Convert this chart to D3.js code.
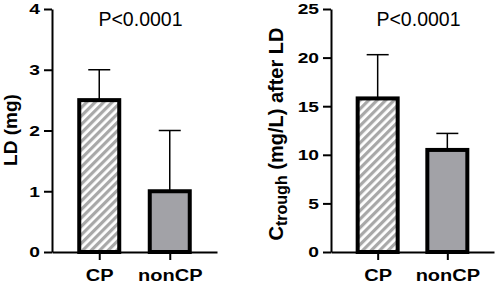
<!DOCTYPE html>
<html>
<head>
<meta charset="utf-8">
<script src="https://cdn.jsdelivr.net/npm/d3@7"></script>
<style>
  body { margin: 0; background: #fff; }
  svg { display: block; font-family: "Liberation Sans", Arial, sans-serif; }
  .axis path, .axis line { stroke: #000; stroke-width: 2; }
  .axis text { font-weight: bold; fill: #000; }
</style>
</head>
<body>
<svg width="498" height="285"></svg>
<script>
var groups = ['CP', 'nonCP'];

// left panel: LD (mg)
var ldMean = [2.5, 1.0];
var ldSd = [0.5, 1.0];
var ldTicks = [0, 1, 2, 3, 4];

// right panel: C trough (mg/L) after LD
var ctMean = [15.8, 10.5];
var ctSd = [4.5, 1.7];
var ctTicks = [0, 5, 10, 15, 20, 25];

var pLabel = 'P<0.0001';

var svg = d3.select('svg');

var defs = svg.append('defs');
var pat = defs.append('pattern')
    .attr('id', 'hatch')
    .attr('patternUnits', 'userSpaceOnUse')
    .attr('width', 6)
    .attr('height', 6)
    .attr('patternTransform', 'rotate(45)');
pat.append('rect').attr('width', 6).attr('height', 6).attr('fill', '#fff');
pat.append('rect').attr('width', 3.2).attr('height', 6).attr('fill', '#a8a8a8');

var fills = ['url(#hatch)', '#a2a2a7'];

var panels = [
    { mean: ldMean, sd: ldSd, ticks: ldTicks, max: 4, x0: 52, x1: 217 },
    { mean: ctMean, sd: ctSd, ticks: ctTicks, max: 25, x0: 331, x1: 494 }
];

var yTop = 9, yBottom = 252;
var barW = 40, capW = 22;

// the bold labels in the figure are set in a wide face: stretch them a bit
function widen(sel, k) {
    sel.each(function () {
        var w = this.getComputedTextLength();
        d3.select(this).attr('textLength', w * k).attr('lengthAdjust', 'spacingAndGlyphs');
    });
}

panels.forEach(function (p, k) {
    var x = d3.scalePoint().domain(groups).range([p.x0, p.x1]).padding(0.67);
    var y = d3.scaleLinear().domain([0, p.max]).range([yBottom, yTop]);
    var g = svg.append('g');

    var rows = groups.map(function (name, i) {
        return { name: name, mean: p.mean[i], sd: p.sd[i], i: i };
    });

    // error bars (upper only)
    g.selectAll('.err').data(rows).enter().append('line')
        .attr('x1', d => x(d.name)).attr('x2', d => x(d.name))
        .attr('y1', d => y(d.mean)).attr('y2', d => y(d.mean + d.sd))
        .attr('stroke', '#000').attr('stroke-width', 1.5);
    g.selectAll('.cap').data(rows).enter().append('line')
        .attr('x1', d => x(d.name) - capW / 2).attr('x2', d => x(d.name) + capW / 2)
        .attr('y1', d => y(d.mean + d.sd)).attr('y2', d => y(d.mean + d.sd))
        .attr('stroke', '#000').attr('stroke-width', 1.5);

    g.selectAll('.bar').data(rows).enter().append('rect')
        .attr('x', d => x(d.name) - barW / 2)
        .attr('width', barW)
        .attr('y', d => y(d.mean))
        .attr('height', d => y(0) - y(d.mean))
        .attr('fill', d => fills[d.i])
        .attr('stroke', '#000')
        .attr('stroke-width', 4);

    g.append('g').attr('class', 'axis')
        .attr('transform', 'translate(' + p.x0 + ',0)')
        .call(d3.axisLeft(y).tickValues(p.ticks).tickFormat(d3.format('d'))
            .tickSize(8).tickSizeOuter(0).tickPadding(4))
        .call(s => s.selectAll('text').style('font-size', '15px'))
        .call(s => widen(s.selectAll('text'), 1.28));

    g.append('g').attr('class', 'axis')
        .attr('transform', 'translate(0,' + yBottom + ')')
        .call(d3.axisBottom(x).tickSize(8).tickSizeOuter(0).tickPadding(10))
        .call(s => s.selectAll('text').style('font-size', '16px'))
        .call(s => widen(s.selectAll('text'), 1.25));

    g.append('text')
        .attr('x', (p.x0 + p.x1) / 2 + 6)
        .attr('y', 26)
        .attr('text-anchor', 'middle')
        .style('font-size', '19.5px')
        .text(pLabel);
});

// y axis titles
svg.append('text')
    .attr('transform', 'translate(17,130) rotate(-90)')
    .attr('text-anchor', 'middle')
    .style('font-size', '19px').style('font-weight', 'bold')
    .text('LD (mg)');

var t2 = svg.append('text')
    .attr('transform', 'translate(283,134) rotate(-90)')
    .attr('text-anchor', 'middle')
    .style('font-size', '20px').style('font-weight', 'bold');
t2.append('tspan').text('C');
t2.append('tspan').attr('dy', 4).style('font-size', '16px').text('trough');
t2.append('tspan').attr('dy', -4).text(' (mg/L) after LD');
</script>
</body>
</html>
